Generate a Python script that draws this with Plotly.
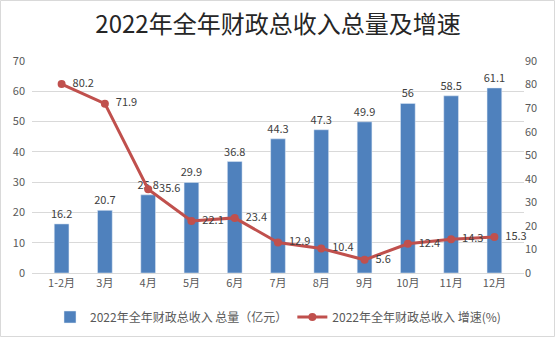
import plotly.graph_objects as go

categories = ["1-2月", "3月", "4月", "5月", "6月", "7月", "8月", "9月", "10月", "11月", "12月"]
total = [16.2, 20.7, 25.8, 29.9, 36.8, 44.3, 47.3, 49.9, 56, 58.5, 61.1]
growth = [80.2, 71.9, 35.6, 22.1, 23.4, 12.9, 10.4, 5.6, 12.4, 14.3, 15.3]
left_ticks = [0, 10, 20, 30, 40, 50, 60, 70]
right_ticks = [0, 10, 20, 30, 40, 50, 60, 70, 80, 90]

FONT = "Noto Sans CJK SC, Microsoft YaHei, sans-serif"
W, H = 556, 338
L, R, T, B = 32, 32, 61, 65

fig = go.Figure()
fig.add_trace(go.Bar(
    x=categories, y=total, name="2022年全年财政总收入 总量（亿元）",
    marker_color="#4F81BD", width=0.34,
    text=[f"{v:g}" for v in total], textposition="outside",
    textangle=0, constraintext="none",
    textfont=dict(size=11, color="#404040"), cliponaxis=False,
))
fig.add_trace(go.Scatter(
    x=categories, y=growth, name="2022年全年财政总收入 增速(%)", yaxis="y2",
    mode="lines+markers+text", line=dict(color="#C0504D", width=3),
    marker=dict(color="#C0504D", size=8),
    text=["\u00a0\u00a0" + f"{v:g}" for v in growth], textposition="middle right",
    textfont=dict(size=11, color="#404040"), cliponaxis=False,
))

pw = W - L - R
ph = H - T - B
fig.add_shape(type="rect", xref="paper", yref="paper",
              x0=-(L - 0.5) / pw, x1=1 + (R - 1.5) / pw,
              y0=-(B - 1.5) / ph, y1=1 + (T - 0.5) / ph,
              line=dict(color="#D9D9D9", width=1), layer="below")

fig.update_layout(
    width=W, height=H,
    margin=dict(l=L, r=R, t=T, b=B, autoexpand=False),
    paper_bgcolor="white", plot_bgcolor="white",
    font=dict(family=FONT, color="#595959", size=11),
    title=dict(text="2022年全年财政总收入总量及增速", x=0.5, xanchor="center",
               y=1 - 25 / H, yanchor="middle",
               font=dict(size=24, color="#262626", family=FONT)),
    xaxis=dict(showgrid=False, showline=True, linecolor="#D9D9D9", ticks="",
               tickfont=dict(size=11, color="#595959")),
    yaxis=dict(range=[0, 70], tickvals=left_ticks, showgrid=True,
               gridcolor="#D9D9D9", zeroline=False, showline=False,
               tickfont=dict(size=11, color="#595959"), ticklabelstandoff=6),
    yaxis2=dict(range=[0, 90], tickvals=right_ticks, overlaying="y", side="right",
                showgrid=False, zeroline=False, showline=False,
                tickfont=dict(size=11, color="#595959")),
    legend=dict(orientation="h", x=0.5, xanchor="center", y=-(317 - 273) / ph,
                yanchor="middle", font=dict(size=12, color="#595959"),
                itemwidth=30, bgcolor="rgba(0,0,0,0)"),
    showlegend=True,
    bargap=0.66,
)
fig.write_html("out.html")
